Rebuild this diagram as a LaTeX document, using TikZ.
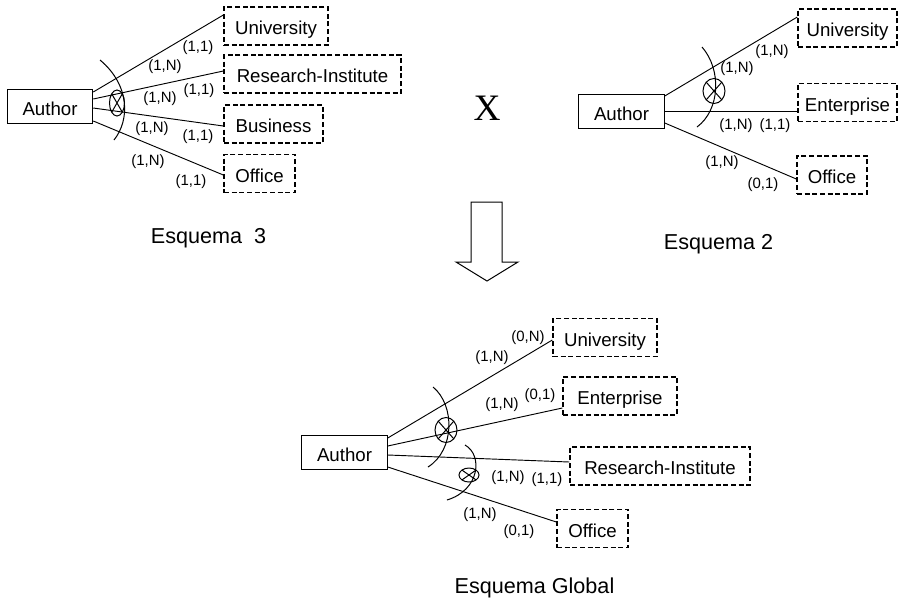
\documentclass[tikz,border=0pt]{standalone}
\usepackage{fontspec}
\setmainfont{Liberation Sans}
\newfontfamily\romana{Liberation Serif}
\usetikzlibrary{shapes.geometric, calc}
\tikzset{
  autor/.style={rectangle, draw, line width=0.9pt, minimum width=64pt,
                minimum height=25pt, inner sep=2pt, text height=15.7pt,
                text depth=2.8pt, font=\fontsize{14}{16}\selectfont},
  entidad/.style={rectangle, draw, dash pattern=on 3.75pt off 2pt,
                  line width=1pt, minimum height=28.5pt, inner sep=2pt,
                  text height=15.7pt, text depth=2.8pt,
                  font=\fontsize{14}{16}\selectfont},
  relacion/.style={ellipse, draw, line width=0.75pt, inner sep=0pt,
                   path picture={\draw[line width=0.75pt]
                     (path picture bounding box.north west) -- (path picture bounding box.south east)
                     (path picture bounding box.north east) -- (path picture bounding box.south west);}},
  card/.style={inner sep=0pt, font=\fontsize{11.2}{12}\selectfont},
  enlace/.style={line width=0.7pt},
  arco/.style={line width=0.75pt},
  titulo/.style={anchor=base, inner sep=0pt, font=\fontsize{16.2}{18}\selectfont}
}

\begin{document}
\begin{tikzpicture}[x=0.75pt, y=-0.75pt]
  \useasboundingbox (0,0) rectangle (901,601);

  % Esquema 3
  \node[autor] (au3) at (50,106.5) {Author};
  \node[entidad, minimum width=78pt]     (un3) at (276,26)     {University};
  \node[entidad, minimum width=132.75pt] (ri3) at (312.5,74)   {Research-Institute};
  \node[entidad, minimum width=74.25pt]  (bu3) at (273.5,124)  {Business};
  \node[entidad, minimum width=53.25pt]  (of3) at (259.5,173.5) {Office};
  \draw[enlace] ($(au3.east)+(0,-14.5)$) -- ($(un3.west)+(0,-11)$);
  \draw[enlace] ($(au3.east)+(0,-7.5)$) -- ($(ri3.west)+(0,-3)$);
  \draw[enlace] ($(au3.east)+(0,1.5)$) -- ($(bu3.west)+(0,2)$);
  \draw[enlace] ($(au3.east)+(0,14.5)$) -- ($(of3.west)+(0,1.5)$);
  \node[relacion, minimum width=11.25pt, minimum height=19.5pt] (r3) at (117,103) {};
  \draw[arco] (100,60) .. controls (130,85) and (130,120) .. (114,140);
  \node[card] (c31) at (198,48)  {(1,1)};
  \node[card] (c32) at (165,67)  {(1,N)};
  \node[card] (c33) at (199,91)  {(1,1)};
  \node[card] (c34) at (160,99)  {(1,N)};
  \node[card] (c35) at (152,129) {(1,N)};
  \node[card] (c36) at (198,137) {(1,1)};
  \node[card] (c37) at (148,162) {(1,N)};
  \node[card] (c38) at (191,182) {(1,1)};
  \node[titulo] (t3) at (208.5,243) {Esquema~~3};

  % Esquema 2
  \node[autor] (au2) at (621.5,111.5) {Author};
  \node[entidad, minimum width=74.25pt] (un2) at (847.5,28)    {University};
  \node[entidad, minimum width=74.25pt] (en2) at (847.5,102.5) {Enterprise};
  \node[entidad, minimum width=52.5pt]  (of2) at (832,175)     {Office};
  \draw[enlace] ($(au2.east)+(0,-15.5)$) -- ($(un2.west)+(0,-11)$);
  \draw[enlace] (au2.east) -- ($(en2.west)+(0,9)$);
  \draw[enlace] ($(au2.east)+(0,11.5)$) -- ($(of2.west)+(0,4)$);
  \node[relacion, minimum width=16.5pt, minimum height=18.75pt] (r2) at (714,91) {};
  \draw[arco] (702,47) .. controls (722,70) and (720,110) .. (697,127);
  \node[card] (c21) at (772,52)  {(1,N)};
  \node[card] (c22) at (737,69)  {(1,N)};
  \node[card] (c23) at (736,126) {(1,N)};
  \node[card] (c24) at (775,126) {(1,1)};
  \node[card] (c25) at (722,163) {(1,N)};
  \node[card] (c26) at (763,185) {(0,1)};
  \node[titulo] (t2) at (718.5,249) {Esquema 2};

  % producto y flecha
  \node[anchor=base, inner sep=0pt, font=\romana\fontsize{28}{30}\selectfont] (por) at (487,120) {X};
  \draw[line width=0.75pt, fill=white] (471,202) -- (502,202) -- (502,262) -- (518,262)
    -- (487,281) -- (456,262) -- (471,262) -- cycle;

  % Esquema global
  \node[autor] (au1) at (344.5,452.5) {Author};
  \node[entidad, minimum width=78pt]   (un1) at (605,337.5) {University};
  \node[entidad, minimum width=85.5pt] (en1) at (620,396)   {Enterprise};
  \node[entidad, minimum width=135pt]  (ri1) at (660,466)   {Research-Institute};
  \node[entidad, minimum width=53.25pt] (of1) at (592.5,528.5) {Office};
  \draw[enlace] ($(au1.east)+(0,-14.5)$) -- ($(un1.west)+(0,2.5)$);
  \draw[enlace] ($(au1.east)+(0,-6.5)$) -- ($(en1.west)+(0,12)$);
  \draw[enlace] ($(au1.east)+(0,2.5)$) -- ($(ri1.west)+(0,-4)$);
  \draw[enlace] ($(au1.east)+(0,14.5)$) -- ($(of1.west)+(0,-6.5)$);
  \node[relacion, minimum width=16.5pt, minimum height=18.75pt] (r1) at (446,430) {};
  \node[relacion, minimum width=15pt, minimum height=10.5pt] (r4) at (469,475) {};
  \draw[arco] (433,387) .. controls (455,405) and (455,450) .. (428,467);
  \draw[arco] (465,445) .. controls (483,455) and (480,490) .. (447,500);
  \node[card] (g1) at (528,338) {(0,N)};
  \node[card] (g2) at (492,358) {(1,N)};
  \node[card] (g3) at (502,405) {(1,N)};
  \node[card] (g4) at (540,396) {(0,1)};
  \node[card] (g5) at (508,478) {(1,N)};
  \node[card] (g6) at (547,480) {(1,1)};
  \node[card] (g7) at (480,515) {(1,N)};
  \node[card] (g8) at (519,532) {(0,1)};
  \node[titulo] (tg) at (534.5,593) {Esquema Global};
\end{tikzpicture}
\end{document}
